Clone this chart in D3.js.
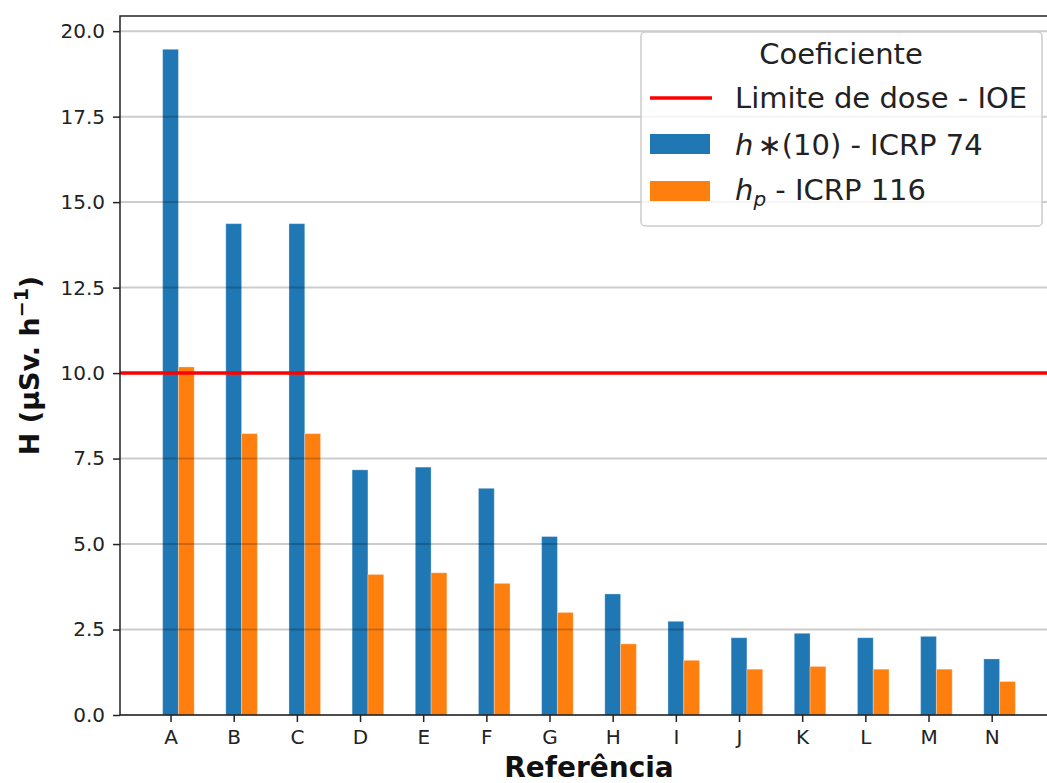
<!DOCTYPE html>
<html>
<head>
<meta charset="utf-8">
<script src="https://cdn.jsdelivr.net/npm/d3@7"></script>
<style>
  body { margin: 0; background: #fff; }
  text { font-family: "DejaVu Sans", sans-serif; }
</style>
</head>
<body>
<div id="chart-area"></div>
<script>
// Data
var referencias = ["A", "B", "C", "D", "E", "F", "G", "H", "I", "J", "K", "L", "M", "N"];
var icrp74  = [19.47, 14.37, 14.37, 7.17, 7.25, 6.63, 5.22, 3.54, 2.74, 2.26, 2.39, 2.26, 2.30, 1.64];
var icrp116 = [10.18, 8.23, 8.23, 4.11, 4.16, 3.85, 3.00, 2.08, 1.60, 1.34, 1.42, 1.34, 1.34, 0.98];
var limiteDose = 10;
var yTicks = [0, 2.5, 5, 7.5, 10, 12.5, 15, 17.5, 20];

var W = 1047, H = 783;
var margin = {left: 120, right: 1058, top: 16, bottom: 715};
var barW = 0.25;

var svg = d3.select("#chart-area").append("svg").attr("width", W).attr("height", H);

// Scales (matplotlib style 5% margins)
var n = referencias.length;
var xLo = -barW / 2, xHi = (n - 1) + barW * 1.5;
var xPad = (xHi - xLo) * 0.05;
var x = d3.scaleLinear().domain([xLo - xPad, xHi + xPad]).range([margin.left, margin.right]);
var yMax = d3.max(icrp74.concat(icrp116)) * 1.05;
var y = d3.scaleLinear().domain([0, yMax]).range([margin.bottom, margin.top]);

var g = svg.append("g");

// Bars
g.selectAll("rect.s74").data(icrp74).enter().append("rect").attr("class", "s74")
  .attr("x", (d, i) => x(i - barW / 2)).attr("y", (d) => y(d))
  .attr("width", x(barW) - x(0)).attr("height", (d) => margin.bottom - y(d))
  .attr("fill", "#1f77b4").attr("stroke", "#ffffff").attr("stroke-opacity", 0.3).attr("stroke-width", 1);

g.selectAll("rect.s116").data(icrp116).enter().append("rect").attr("class", "s116")
  .attr("x", (d, i) => x(i + barW / 2)).attr("y", (d) => y(d))
  .attr("width", x(barW) - x(0)).attr("height", (d) => margin.bottom - y(d))
  .attr("fill", "#ff7f0e").attr("stroke", "#ffffff").attr("stroke-opacity", 0.3).attr("stroke-width", 1);

// Grid (drawn over bars, as in the original)
g.selectAll("line.grid").data(yTicks).enter().append("line").attr("class", "grid")
  .attr("x1", margin.left).attr("x2", margin.right).attr("y1", (d) => y(d)).attr("y2", (d) => y(d))
  .attr("stroke", "#000").attr("stroke-opacity", 0.2).attr("stroke-width", 2);

// Dose limit
g.append("line").attr("x1", margin.left).attr("x2", margin.right)
  .attr("y1", y(limiteDose)).attr("y2", y(limiteDose))
  .attr("stroke", "#ff0000").attr("stroke-width", 3.5);

// Axes
var xAxis = d3.axisBottom(x).tickValues(d3.range(n)).tickFormat((i) => referencias[i]).tickSize(7).tickPadding(8);
var xg = svg.append("g").attr("transform", "translate(0," + margin.bottom + ")").call(xAxis);
xg.select(".domain").remove();
xg.selectAll("text").attr("font-size", "20px").attr("fill", "#222").attr("font-family", "DejaVu Sans");
xg.selectAll("line").attr("stroke", "#222").attr("stroke-width", 1.5);

var yAxis = d3.axisLeft(y).tickValues(yTicks).tickFormat(d3.format(".1f")).tickSize(7).tickPadding(8);
var yg = svg.append("g").attr("transform", "translate(" + margin.left + ",0)").call(yAxis);
yg.select(".domain").remove();
yg.selectAll("text").attr("font-size", "20px").attr("fill", "#222").attr("font-family", "DejaVu Sans");
yg.selectAll("line").attr("stroke", "#222").attr("stroke-width", 1.5);

// Spines
svg.append("rect").attr("x", margin.left).attr("y", margin.top)
  .attr("width", margin.right - margin.left).attr("height", margin.bottom - margin.top)
  .attr("fill", "none").attr("stroke", "#222").attr("stroke-width", 1.5);

// Axis labels
svg.append("text").attr("x", (margin.left + margin.right) / 2).attr("y", 777).attr("text-anchor", "middle")
  .attr("font-size", "28px").attr("font-weight", "bold").attr("fill", "#111").text("Referência");

var yl = svg.append("text").attr("transform", "translate(39," + (margin.top + margin.bottom) / 2 + ") rotate(-90)")
  .attr("text-anchor", "middle").attr("font-size", "27px").attr("font-weight", "bold").attr("fill", "#111");
yl.append("tspan").text("H (µSv. h");
yl.append("tspan").attr("font-size", "19px").attr("dy", -11).text("−1");
yl.append("tspan").attr("dy", 11).text(")");

// Legend
var leg = svg.append("g");
leg.append("rect").attr("x", 641).attr("y", 32).attr("width", 401).attr("height", 194).attr("rx", 4)
  .attr("fill", "#fff").attr("fill-opacity", 0.8).attr("stroke", "#ccc").attr("stroke-width", 1.5);
leg.append("text").attr("x", 841).attr("y", 64).attr("text-anchor", "middle")
  .attr("font-size", "29px").attr("fill", "#222").text("Coeficiente");

leg.append("line").attr("x1", 650).attr("x2", 712).attr("y1", 98).attr("y2", 98)
  .attr("stroke", "#ff0000").attr("stroke-width", 3.5);
leg.append("text").attr("x", 735).attr("y", 108).attr("font-size", "29px").attr("fill", "#222")
  .text("Limite de dose - IOE");

leg.append("rect").attr("x", 650).attr("y", 134).attr("width", 60).attr("height", 20).attr("fill", "#1f77b4");
var t1 = leg.append("text").attr("x", 735).attr("y", 155).attr("font-size", "29px").attr("fill", "#222");
t1.append("tspan").attr("font-style", "italic").text("h");
t1.append("tspan").attr("dx", 4).text("∗(10) - ICRP 74");

leg.append("rect").attr("x", 650).attr("y", 181).attr("width", 60).attr("height", 20).attr("fill", "#ff7f0e");
var t2 = leg.append("text").attr("x", 735).attr("y", 200).attr("font-size", "29px").attr("fill", "#222");
t2.append("tspan").attr("font-style", "italic").text("h");
t2.append("tspan").attr("font-style", "italic").attr("font-size", "20px").attr("dy", 6).text("p");
t2.append("tspan").attr("dy", -6).text(" - ICRP 116");
</script>
</body>
</html>
